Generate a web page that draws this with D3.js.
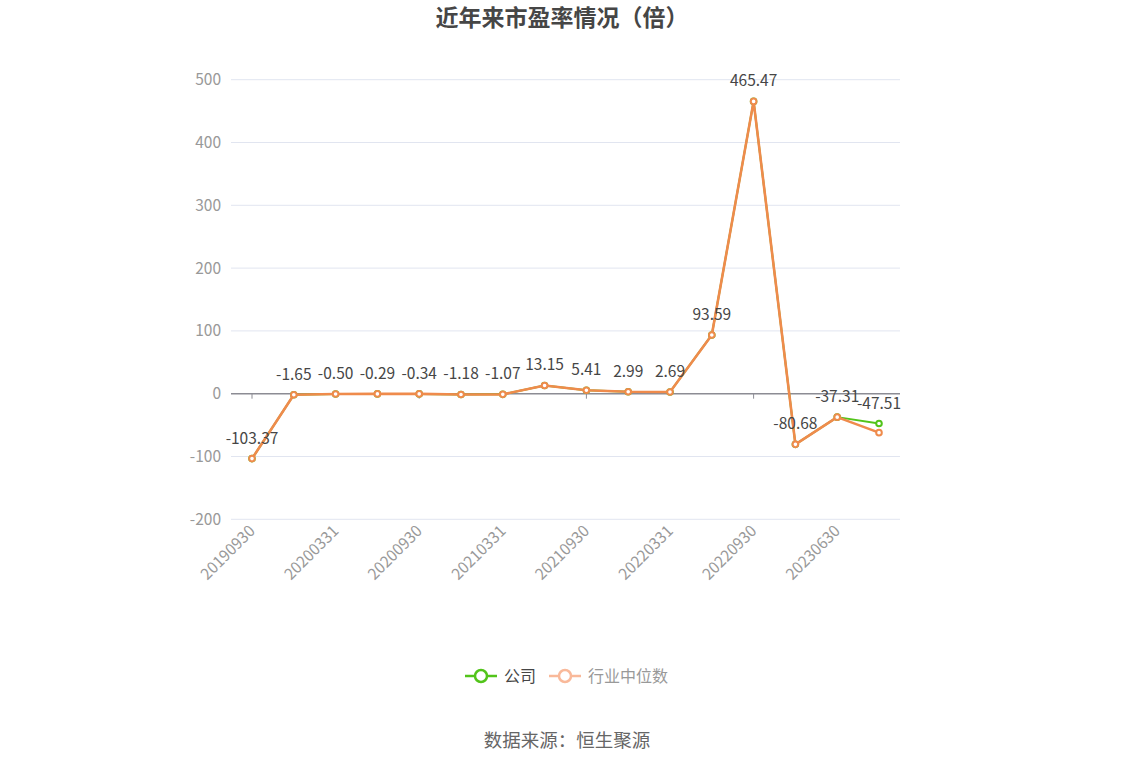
<!doctype html>
<html lang="zh">
<head>
  <meta charset="utf-8">
  <title>近年来市盈率情况（倍）</title>
  <script src="https://d3js.org/d3.v7.min.js"></script>
  <style>
    body { margin: 0; background: #fff; }
    svg text { font-family: 'Noto Sans CJK SC', 'Noto Sans', sans-serif; }
  </style>
</head>
<body>
  <div id="chart"></div>
  <script>
    // report dates (only every second one is labelled on the axis)
    var dates = ['20190930','20191231','20200331','20200630','20200930','20201231',
                 '20210331','20210630','20210930','20211231','20220331','20220630',
                 '20220930','20221231','20230630','20231010'];
    // company P/E
    var company = [-103.37,-1.65,-0.50,-0.29,-0.34,-1.18,-1.07,13.15,5.41,2.99,2.69,93.59,465.47,-80.68,-37.31,-47.51];
    // industry median P/E
    var median = [-103.37,-1.65,-0.50,-0.29,-0.34,-1.18,-1.07,13.15,5.41,2.99,2.69,93.59,465.47,-80.68,-37.31,-62.0];
    var yTicks = [-200,-100,0,100,200,300,400,500];

    var width = 1134, height = 766;
    var plotLeft = 252, plotRight = 879, plotTop = 79.7, plotBottom = 519.3;

    var svg = d3.select('#chart').append('svg')
      .attr('width', width).attr('height', height);

    // title
    svg.append('text')
      .attr('x', 562).attr('y', 26)
      .attr('text-anchor', 'middle')
      .style('font-size', '23px').style('font-weight', 'bold')
      .style('fill', '#464646')
      .text('近年来市盈率情况（倍）');

    var x = d3.scalePoint().domain(dates).range([plotLeft, plotRight]);
    var y = d3.scaleLinear().domain([-200, 500]).range([plotBottom, plotTop]);

    // grid lines
    svg.append('g').selectAll('line')
      .data(yTicks.filter(function(d) { return d !== 0; }))
      .enter().append('line')
      .attr('x1', 231).attr('x2', 900)
      .attr('y1', function(d) { return y(d); })
      .attr('y2', function(d) { return y(d); })
      .attr('stroke', '#e1e5f0').attr('stroke-width', 1);

    // y labels
    svg.append('g').selectAll('text')
      .data(yTicks).enter().append('text')
      .attr('x', 221).attr('y', function(d) { return y(d); })
      .attr('dy', '0.35em').attr('text-anchor', 'end')
      .style('font-size', '15.5px').style('fill', '#999')
      .text(function(d) { return d; });

    // x axis on zero
    var xAxis = svg.append('g')
      .attr('transform', 'translate(0,' + y(0) + ')');
    xAxis.append('line')
      .attr('x1', 231).attr('x2', 900)
      .attr('stroke', '#8c8c94').attr('stroke-width', 1.5);
    xAxis.selectAll('.tk')
      .data(dates.filter(function(d, i) { return i % 4 === 0; }))
      .enter().append('line')
      .attr('x1', function(d) { return x(d); })
      .attr('x2', function(d) { return x(d); })
      .attr('y1', 0).attr('y2', 5)
      .attr('stroke', '#8c8c94').attr('stroke-width', 1);

    // x labels, rotated, at bottom
    svg.append('g').selectAll('text')
      .data(dates.filter(function(d, i) { return i % 2 === 0; }))
      .enter().append('text')
      .attr('transform', function(d) { return 'translate(' + (x(d) + 4) + ',' + 532 + ') rotate(-45)'; })
      .attr('text-anchor', 'end')
      .style('font-size', '15.5px').style('fill', '#999')
      .text(function(d) { return d; });

    var line = d3.line()
      .x(function(d, i) { return x(dates[i]); })
      .y(function(d) { return y(d); });

    function drawSeries(values, color, w) {
      svg.append('path')
        .datum(values)
        .attr('d', line)
        .attr('fill', 'none')
        .attr('stroke', color)
        .attr('stroke-width', w)
        .attr('stroke-linejoin', 'round');
      svg.append('g').selectAll('circle')
        .data(values).enter().append('circle')
        .attr('cx', function(d, i) { return x(dates[i]); })
        .attr('cy', function(d) { return y(d); })
        .attr('r', 2.8)
        .attr('fill', '#fff')
        .attr('stroke', color)
        .attr('stroke-width', 2);
    }

    drawSeries(company, '#52c41a', 2);
    drawSeries(median, '#ef8b4c', 2.6);

    // value labels of the company series
    svg.append('g').selectAll('text')
      .data(company).enter().append('text')
      .attr('x', function(d, i) { return x(dates[i]); })
      .attr('y', function(d) { return y(d) - 15; })
      .attr('text-anchor', 'middle')
      .style('font-size', '15.5px').style('fill', '#464646')
      .text(function(d) { return d.toFixed(2); });

    // legend
    var legend = [
      { name: '公司', color: '#52c41a', text: '#464646', x: 465 },
      { name: '行业中位数', color: '#f9b99a', text: '#999', x: 549 }
    ];
    var lg = svg.append('g').selectAll('g')
      .data(legend).enter().append('g')
      .attr('transform', function(d) { return 'translate(' + d.x + ',676)'; });
    lg.append('line')
      .attr('x1', 0).attr('x2', 32)
      .attr('stroke', function(d) { return d.color; })
      .attr('stroke-width', 2.5);
    lg.append('circle')
      .attr('cx', 16).attr('r', 6)
      .attr('fill', '#fff')
      .attr('stroke', function(d) { return d.color; })
      .attr('stroke-width', 2.5);
    lg.append('text')
      .attr('x', 39).attr('dy', '0.35em')
      .style('font-size', '16px')
      .style('fill', function(d) { return d.text; })
      .text(function(d) { return d.name; });

    // source
    svg.append('text')
      .attr('x', 567).attr('y', 747)
      .attr('text-anchor', 'middle')
      .style('font-size', '18.5px').style('fill', '#666')
      .text('数据来源：恒生聚源');
  </script>
</body>
</html>
